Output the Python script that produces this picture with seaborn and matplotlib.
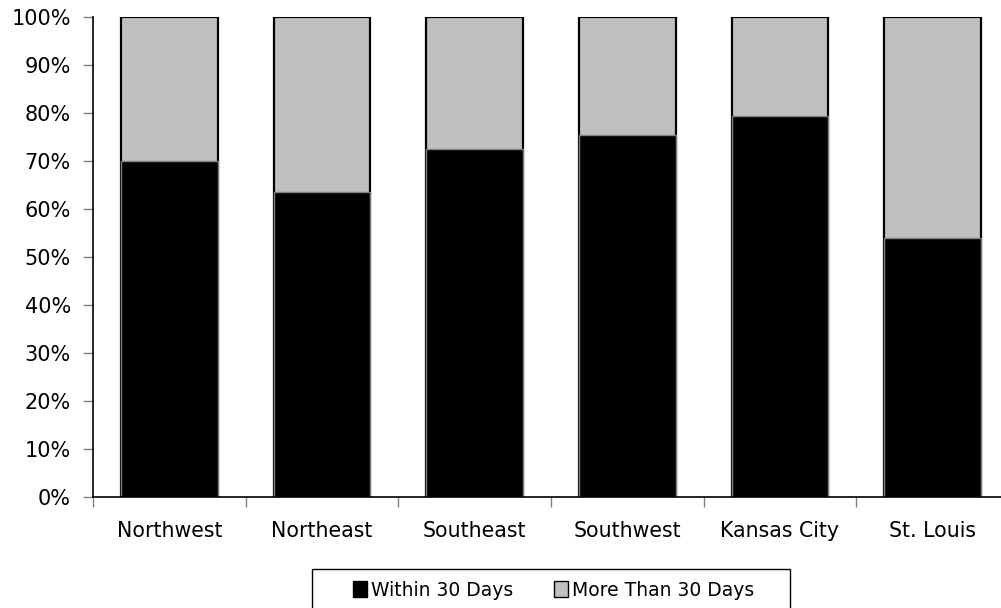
import matplotlib
matplotlib.use("Agg")
import matplotlib.pyplot as plt
import seaborn as sns
import pandas as pd
from matplotlib.patches import Patch, Rectangle
from matplotlib.ticker import FuncFormatter, FixedLocator

regions = ["Northwest", "Northeast", "Southeast", "Southwest", "Kansas City", "St. Louis"]
within_30 = [70.0, 63.6, 72.4, 75.4, 79.4, 54.0]
more_than_30 = [30.0, 36.4, 27.6, 24.6, 20.6, 46.0]
y_ticks = [0, 10, 20, 30, 40, 50, 60, 70, 80, 90, 100]

df = pd.DataFrame({"region": regions, "within": within_30, "more": more_than_30})
df["total"] = df["within"] + df["more"]

sns.set_style("white")
plt.rcParams["font.family"] = ["DejaVu Sans"]

W, H = 1001, 608
fig = plt.figure(figsize=(W / 100, H / 100), dpi=100)
ax = fig.add_axes([93 / W, 1 - 497 / H, (1009 - 93) / W, (497 - 17) / H])

sns.barplot(data=df, x="region", y="total", color="#c0c0c0", width=0.635,
            edgecolor="black", linewidth=1.6, ax=ax, saturation=1)
sns.barplot(data=df, x="region", y="within", color="black", width=0.635,
            edgecolor="#808080", linewidth=1.0, ax=ax, saturation=1)

ax.set_xlim(-0.5, len(regions) - 0.5)
ax.set_ylim(0, 100)
ax.set_yticks(y_ticks)
ax.yaxis.set_major_formatter(FuncFormatter(lambda v, p: f"{int(v)}%"))
ax.set_xlabel("")
ax.set_ylabel("")

ax.xaxis.set_minor_locator(FixedLocator([i - 0.5 for i in range(len(regions) + 1)]))
ax.tick_params(axis="x", which="major", length=0, labelsize=14.8, pad=17, labelcolor="black")
ax.tick_params(axis="x", which="minor", length=7, width=1, color="#808080", bottom=True)
ax.tick_params(axis="y", which="major", length=7, width=1, color="#808080",
               labelsize=15, left=True, pad=9, labelcolor="black")

for s in ["top", "right"]:
    ax.spines[s].set_visible(False)
for s in ["left", "bottom"]:
    ax.spines[s].set_color("black")
    ax.spines[s].set_linewidth(1.2)

handles = [Patch(facecolor="black", edgecolor="black", label="Within 30 Days"),
           Patch(facecolor="#c0c0c0", edgecolor="black", label="More Than 30 Days")]
leg = fig.legend(handles=handles, loc="center", bbox_to_anchor=(553.5 / W, 1 - 590 / H),
                 ncol=2, fontsize=13.5, frameon=False,
                 handlelength=0.75, handleheight=0.9, handletextpad=0.2,
                 columnspacing=2.2, borderpad=0, borderaxespad=0)
for t in leg.get_texts():
    t.set_color("black")

fig.add_artist(Rectangle((312 / W, 1 - 640 / H), (790 - 312) / W, (640 - 569) / H,
                         transform=fig.transFigure, facecolor="none",
                         edgecolor="black", linewidth=1.0))

fig.savefig("out.png", dpi=100)
